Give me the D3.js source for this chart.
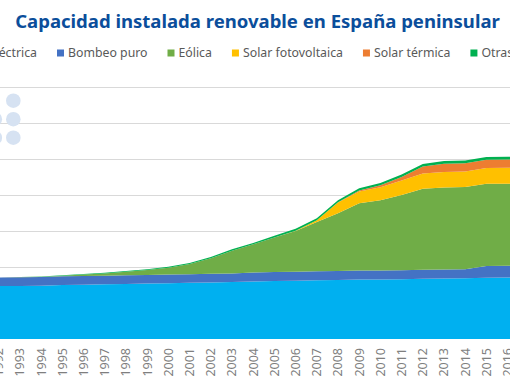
<!DOCTYPE html>
<html>
<head>
<meta charset="utf-8">
<script src="https://cdn.jsdelivr.net/npm/d3@7"></script>
<style>
  html, body { margin: 0; padding: 0; background: #fff; }
  svg { display: block; }
</style>
</head>
<body>
<div id="chart"></div>
<script>
var width = 510,
    height = 382;

// datos (MW), España peninsular
var years = [1992, 1993, 1994, 1995, 1996, 1997, 1998, 1999, 2000, 2001, 2002, 2003, 2004,
             2005, 2006, 2007, 2008, 2009, 2010, 2011, 2012, 2013, 2014, 2015, 2016, 2017];
var hidraulica = [14700, 14750, 14800, 15000, 15100, 15200, 15300, 15400, 15500, 15600, 15700, 15800, 16000,
                  16100, 16200, 16300, 16400, 16500, 16550, 16600, 16750, 16800, 16850, 17000, 17050, 17050];
var bombeo = [2400, 2400, 2400, 2400, 2400, 2400, 2400, 2400, 2400, 2400, 2400, 2400, 2500,
              2500, 2500, 2500, 2500, 2500, 2500, 2500, 2500, 2500, 2500, 3300, 3300, 3300];
var eolica = [0, 50, 100, 200, 400, 600, 1000, 1350, 1900, 2800, 4300, 6300, 7800,
              9600, 11300, 13700, 16000, 18700, 19500, 20900, 22500, 22800, 22900, 22800, 22800, 22800];
var fotovoltaica = [0, 0, 0, 0, 0, 0, 0, 0, 0, 0, 0, 0, 0,
                    0, 100, 500, 3000, 3300, 3600, 4000, 4200, 4300, 4300, 4400, 4400, 4400];
var termica = [0, 0, 0, 0, 0, 0, 0, 0, 0, 0, 0, 0, 0,
               0, 0, 10, 60, 250, 550, 1000, 1950, 2300, 2300, 2300, 2300, 2300];
var otras = [0, 50, 80, 100, 150, 200, 200, 250, 300, 300, 350, 400, 400,
             450, 500, 500, 550, 600, 650, 700, 700, 750, 750, 750, 750, 750];

var keys = ["hidraulica", "bombeo", "eolica", "fotovoltaica", "termica", "otras"];
var labels = ["Hidroeléctrica", "Bombeo puro", "Eólica", "Solar fotovoltaica", "Solar térmica", "Otras renovables"];
var colors = ["#00b0f0", "#4472c4", "#70ad47", "#ffc000", "#ed7d31", "#00b050"];
var yTicks = [10000, 20000, 30000, 40000, 50000, 60000, 70000];
var title = "Capacidad instalada renovable en España peninsular";

var series = { hidraulica: hidraulica, bombeo: bombeo, eolica: eolica,
               fotovoltaica: fotovoltaica, termica: termica, otras: otras };
var rows = years.map(function(y, i) {
  var r = { year: y };
  keys.forEach(function(k) { r[k] = series[k][i]; });
  return r;
});

var svg = d3.select("#chart")
  .append("svg")
  .attr("width", width)
  .attr("height", height)
  .style("font-family", "'Noto Sans', sans-serif");

// el grafico original esta recortado: el area sigue fuera de la imagen
var x = d3.scaleLinear()
  .domain([1992, 2017])
  .range([-1.2, 528.8]);

var y = d3.scaleLinear()
  .domain([0, 70000])
  .range([339, 87]);

var color = d3.scaleOrdinal().domain(keys).range(colors);

// rejilla
svg.append("g")
  .selectAll("line")
  .data(yTicks)
  .enter().append("line")
    .attr("x1", 0)
    .attr("x2", width)
    .attr("y1", function(d) { return Math.round(y(d)) + 0.5; })
    .attr("y2", function(d) { return Math.round(y(d)) + 0.5; })
    .attr("stroke", "#d9d9d9")
    .attr("stroke-width", 1);

// circulos decorativos
var dots = [[0, 0], [0, 1], [0, 2], [-1, 1], [-1, 2]];
svg.append("g")
  .selectAll("circle")
  .data(dots)
  .enter().append("circle")
    .attr("cx", function(d) { return 13.3 + d[0] * 18.5; })
    .attr("cy", function(d) { return 100.7 + d[1] * 18.5; })
    .attr("r", 7.3)
    .attr("fill", "#d6e2f2");

var stack = d3.stack().keys(keys);
var layers = stack(rows);

var area = d3.area()
  .x(function(d) { return x(d.data.year); })
  .y0(function(d) { return y(d[0]); })
  .y1(function(d) { return y(d[1]); });

svg.append("g")
  .selectAll("path")
  .data(layers)
  .enter().append("path")
    .attr("d", area)
    .attr("fill", function(d) { return color(d.key); });

// eje x (las etiquetas de los extremos quedan cortadas como en el original)
var xAxis = svg.append("g");
xAxis.selectAll("text")
  .data(years)
  .enter().append("text")
    .attr("transform", function(d) { return "translate(" + x(d) + ",348) rotate(-90)"; })
    .attr("text-anchor", "end")
    .attr("dy", "0.35em")
    .attr("fill", "#7f7f7f")
    .style("font-size", "12.5px")
    .text(function(d) { return d; });

// titulo
var t = svg.append("text")
  .attr("x", 257.5)
  .attr("y", 28)
  .attr("text-anchor", "middle")
  .attr("fill", "#0b4e9b")
  .style("font-weight", "bold")
  .style("font-size", "20px")
  .text(title);
var tw = t.node().getComputedTextLength();
t.style("font-size", (20 * 485 / tw) + "px");

// leyenda
var legend = svg.append("g");
var items = legend.selectAll("g")
  .data(keys)
  .enter().append("g");
items.append("rect")
  .attr("width", 7)
  .attr("height", 7)
  .attr("y", -3.5)
  .attr("fill", function(d) { return color(d); });
items.append("text")
  .attr("x", 11)
  .attr("dy", "0.35em")
  .attr("fill", "#595959")
  .style("font-size", "12.3px")
  .text(function(d, i) { return labels[i]; });

var widths = [];
items.selectAll("text").each(function() { widths.push(this.getComputedTextLength()); });
var lx = 37 - widths[0] - 11;
items.attr("transform", function(d, i) {
  var pos = lx;
  lx += 11 + widths[i] + 20;
  return "translate(" + pos + ",53)";
});
</script>
</body>
</html>
